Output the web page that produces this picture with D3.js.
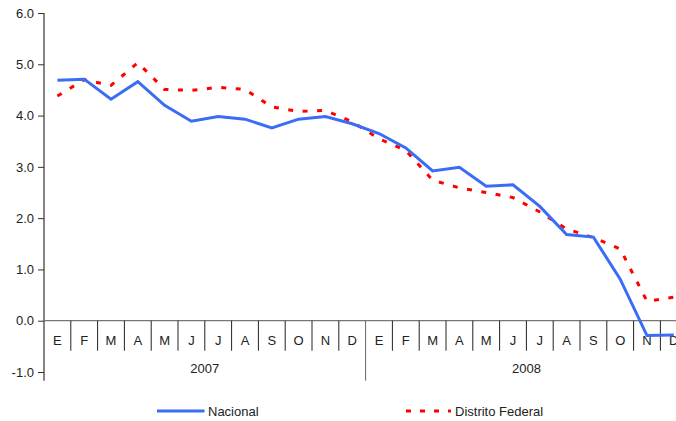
<!DOCTYPE html>
<html>
<head>
<meta charset="utf-8">
<script src="https://cdn.jsdelivr.net/npm/d3@7"></script>
<style>
  html, body { margin: 0; padding: 0; background: #fff; }
  svg { display: block; font-family: "Liberation Sans", Arial, sans-serif; }
</style>
</head>
<body>
<svg id="chart" width="676" height="421"></svg>
<script>
// ---- data ----
const months = ["E","F","M","A","M","J","J","A","S","O","N","D"];
const years = ["2007", "2008"];
const categories = years.flatMap(y => months.map((m, i) => y + "-" + (i + 1)));
const nacional = [4.69, 4.71, 4.32, 4.66, 4.20, 3.89, 3.98, 3.93, 3.76, 3.93, 3.98, 3.84,
                  3.65, 3.37, 2.92, 2.99, 2.62, 2.65, 2.23, 1.68, 1.63, 0.81, -0.29, -0.28];
const distritoFederal = [4.38, 4.70, 4.59, 5.03, 4.51, 4.49, 4.55, 4.51, 4.17, 4.08, 4.10, 3.88,
                         3.55, 3.32, 2.74, 2.59, 2.50, 2.40, 2.12, 1.79, 1.62, 1.40, 0.38, 0.46];
const yTicks = [-1, 0, 1, 2, 3, 4, 5, 6];
const seriesNames = ["Nacional", "Distrito Federal"];

// ---- layout ----
const svg = d3.select("#chart");
const left = 44, step = 26.8;
const x = d3.scaleBand().domain(categories).range([left, left + step * categories.length]).padding(0);
const y = d3.scaleLinear().domain([-1, 6]).range([372, 13]);
const axisBottom = 380.7;

// y axis
const fmt = d3.format(".1f");
const yAxis = d3.axisLeft(y).tickValues(yTicks).tickFormat(d => fmt(d).replace("\u2212", "-")).tickSize(6).tickPadding(4);
const yg = svg.append("g").attr("transform", `translate(${left},0)`).call(yAxis);
yg.select(".domain").remove();
yg.selectAll(".tick line").attr("stroke", "#333");
yg.selectAll(".tick text").attr("fill", "#222").style("font-size", "13px")
  .style("font-family", "'Liberation Sans', Arial, sans-serif");
svg.append("line").attr("x1", left).attr("x2", left).attr("y1", y(6)).attr("y2", axisBottom)
  .attr("stroke", "#333").attr("stroke-width", 1.2);

// zero line
const y0 = y(0);
svg.append("line").attr("x1", left).attr("x2", 676).attr("y1", y0).attr("y2", y0)
  .attr("stroke", "#777").attr("stroke-width", 1.2);

// category separators
categories.forEach((c, i) => {
  if (i === 0) return;
  const xx = x(c);
  const isYear = i % 12 === 0;
  svg.append("line").attr("x1", xx).attr("x2", xx).attr("y1", y0)
    .attr("y2", isYear ? axisBottom : y0 + 30)
    .attr("stroke", isYear ? "#666" : "#222").attr("stroke-width", 1);
});

// month labels
svg.append("g").selectAll("text").data(categories).join("text")
  .attr("x", d => x(d) + x.bandwidth() / 2)
  .attr("y", y0 + 24.5)
  .attr("text-anchor", "middle")
  .attr("fill", "#222")
  .style("font-size", "13px")
  .text((d, i) => months[i % 12]);

// year labels
years.forEach((yr, k) => {
  const a = x(categories[k * 12]);
  const b = x(categories[k * 12 + 11]) + x.bandwidth();
  svg.append("text").attr("x", (a + b) / 2).attr("y", 373)
    .attr("text-anchor", "middle").attr("fill", "#222").style("font-size", "13px").text(yr);
});

// lines
const line = d3.line()
  .x((d, i) => x(categories[i]) + x.bandwidth() / 2)
  .y(d => y(d));

svg.append("path").datum(distritoFederal).attr("d", line)
  .attr("fill", "none").attr("stroke", "#ff0000").attr("stroke-width", 3)
  .attr("stroke-dasharray", "5,9.5");

svg.append("path").datum(nacional).attr("d", line)
  .attr("fill", "none").attr("stroke", "#3a6df5").attr("stroke-width", 3)
  .attr("stroke-linejoin", "miter");

// legend
const leg = svg.append("g");
leg.append("line").attr("x1", 157).attr("x2", 204.5).attr("y1", 411).attr("y2", 411)
  .attr("stroke", "#3a6df5").attr("stroke-width", 3);
leg.append("text").attr("x", 208).attr("y", 415.5).attr("fill", "#222").style("font-size", "13px").text(seriesNames[0]);
leg.append("line").attr("x1", 406).attr("x2", 451).attr("y1", 411).attr("y2", 411)
  .attr("stroke", "#ff0000").attr("stroke-width", 3).attr("stroke-dasharray", "5,9");
leg.append("text").attr("x", 455).attr("y", 415.5).attr("fill", "#222").style("font-size", "13px").text(seriesNames[1]);
</script>
</body>
</html>
